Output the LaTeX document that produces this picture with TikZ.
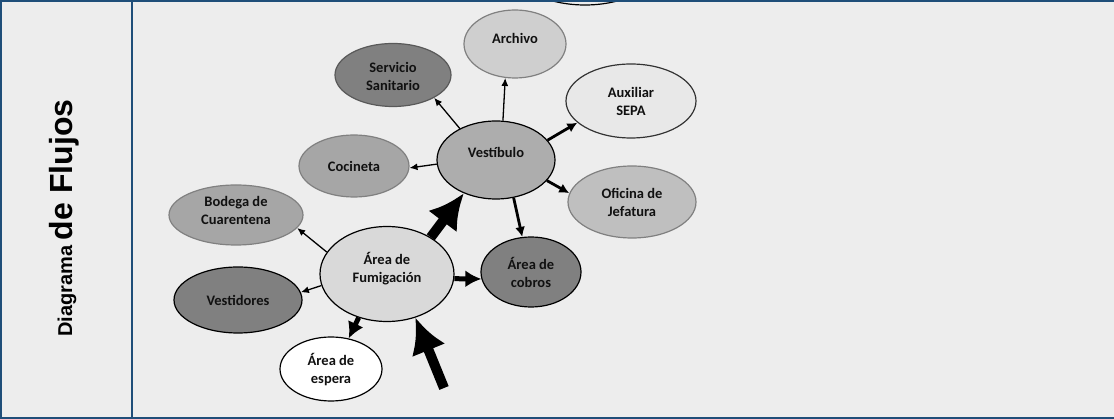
\documentclass[tikz,border=0pt]{standalone}
\usepackage{fontspec}
\setmainfont{Carlito}
\newfontfamily\titlefont{Liberation Sans}
\usetikzlibrary{arrows.meta,shapes.geometric}
\definecolor{dfblue}{HTML}{1F4E79}
\definecolor{dfback}{HTML}{EDEDED}
\definecolor{dfink}{HTML}{111111}
\definecolor{dfline}{HTML}{808080}

\begin{document}
\begin{tikzpicture}[x=1pt, y=-1pt,
  zona/.style={ellipse, draw=black, line width=1.2pt, inner sep=0pt, align=center, text=dfink,
    font=\bfseries\fontsize{14.5}{18}\selectfont},
  zonagris/.style={zona, draw=dfline},
  fina/.style={-{Latex[length=8pt,width=7pt]}, line width=1.3pt},
  media/.style={-{Latex[length=10pt,width=10pt]}, line width=2.8pt},
  gruesa/.style={-{Latex[length=16pt,width=17pt]}, line width=5pt},
  enorme/.style={-{Latex[length=35pt,width=36pt]}, line width=10pt}]
  \useasboundingbox (0,0) rectangle (1114,419);
  \fill[dfback] (0,0) rectangle (1114,419);

  \begin{scope}
    \clip (133,2) rectangle (1114,419);
    \draw[line width=1.2pt] (585,-30) ellipse [x radius=69, y radius=35];
  \end{scope}

  \draw[dfblue, line width=2pt] (1114,1) -- (1,1) -- (1,418) -- (1114,418);
  \draw[dfblue, line width=2pt] (132,1) -- (132,418);
  \node[rotate=90, anchor=base west, inner sep=0pt, font=\titlefont\bfseries] (titulo) at (72,337)
    {{\fontsize{20}{24}\selectfont Diagrama }{\fontsize{32}{36}\selectfont de Flujos}};

  \node[zonagris, fill=black!19, minimum width=102pt, minimum height=68pt, text depth=11pt] (arch) at (515,44) {Archivo};
  \node[zonagris, draw=black!65, fill=black!50, minimum width=116pt, minimum height=63pt, text height=32pt] (serv) at (393,75) {Servicio\\Sanitario};
  \node[zona, draw=black!80, fill=black!9, minimum width=130pt, minimum height=74pt] (aux) at (631,101) {Auxiliar\\SEPA};
  \node[zona, fill=black!32, minimum width=118pt, minimum height=78pt, text depth=15pt] (vest) at (496,160) {Vestíbulo};
  \node[zonagris, fill=black!35, minimum width=110pt, minimum height=62pt] (coc) at (354,166) {Cocineta};
  \node[zonagris, fill=black!25, minimum width=128pt, minimum height=72pt] (ofi) at (632,202) {Oficina de\\Jefatura};
  \node[zonagris, fill=black!35, minimum width=134pt, minimum height=60pt, text depth=10pt] (bod) at (236,215) {Bodega de\\Cuarentena};
  \node[zona, fill=black!15, minimum width=134pt, minimum height=95pt, text depth=13pt] (fum) at (387,274) {Área de\\Fumigación};
  \node[zona, fill=black!50, minimum width=100pt, minimum height=70pt, text height=32pt] (cob) at (531,272) {Área de\\cobros};
  \node[zona, fill=black!50, minimum width=128pt, minimum height=66pt] (vesd) at (238,300) {Vestidores};
  \node[zona, fill=white, minimum width=102pt, minimum height=64pt, text height=32pt] (esp) at (331,369) {Área de\\espera};
  \coordinate (entrada) at (444,388);

  \draw[fina] (vest.139) -- (serv.-29);
  \draw[fina] (vest.80) -- (arch.-106);
  \draw[media] (vest.21) -- (aux.-158);
  \draw[media] (vest.-22) -- (ofi.172);
  \draw[media] (vest.-65) -- (cob.104);
  \draw[fina] (vest.184) -- (coc.-2);
  \draw[enorme] (fum.40) -- (vest.-134);
  \draw[fina] (fum.160) -- (bod.-12);
  \draw[fina] (fum.190) -- (vesd.7);
  \draw[gruesa] (fum.-4) -- (cob.188);
  \draw[gruesa] (fum.-123) -- (esp.60);
  \draw[enorme] (entrada) -- (fum.-57);
\end{tikzpicture}
\end{document}
